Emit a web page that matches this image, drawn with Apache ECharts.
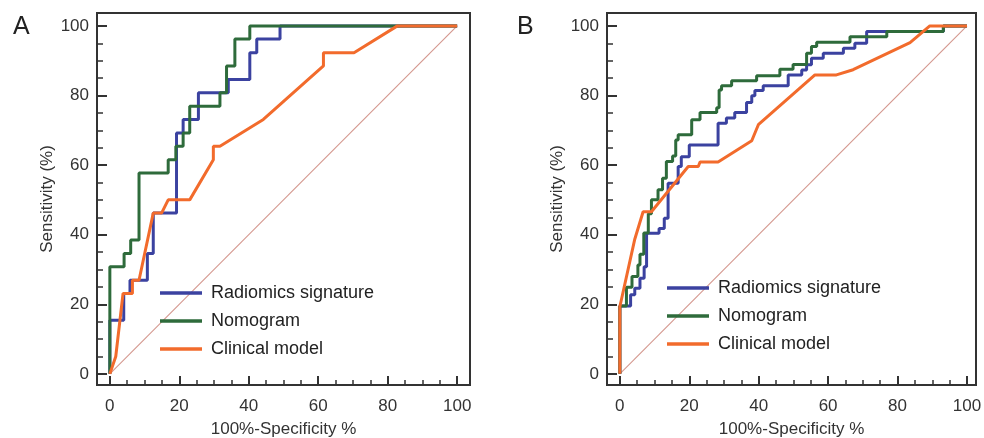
<!DOCTYPE html>
<html>

<head>
	<meta charset="utf-8" />
	<title></title>
	<script type="text/javascript" src="https://cdn.jsdelivr.net/npm/echarts@6/dist/echarts.min.js"></script>
</head>

<body style="margin:0;">
	<div id="main" style="width: 984px;height:438px;"></div>
</body>
<script>
	// ROC vertices [100%-specificity, sensitivity]
	var radiomicsA = [[0,0],[0,15.4],[4,15.4],[4,23.1],[5.8,23.1],[5.8,26.9],[10.8,26.9],[10.8,34.6],[12.5,34.6],[12.5,46.2],[19.2,46.2],[19.2,69.2],[21.1,69.2],[21.1,73.1],[25.5,73.1],[25.5,80.8],[34.1,80.8],[34.1,84.6],[40.3,84.6],[40.3,92.3],[42.3,92.3],[42.3,96.2],[49,96.2],[49,100],[100,100]];
	var nomogramA = [[0,0],[0,30.8],[4.1,30.8],[4.1,34.6],[6,34.6],[6,38.5],[8.4,38.5],[8.4,57.7],[16.8,57.7],[16.8,61.5],[19,61.5],[19,65.4],[21.1,65.4],[21.1,69.2],[23,69.2],[23,76.9],[31.7,76.9],[31.7,80.8],[33.6,80.8],[33.6,88.5],[36,88.5],[36,96.2],[40.3,96.2],[40.3,100],[100,100]];
	var clinicalA = [[0,0],[1.7,5],[3.8,23.1],[6.5,23.1],[6.5,26.9],[8.4,26.9],[12.5,46.2],[14.9,46.2],[16.8,50],[23,50],[29.8,61.5],[29.8,65.4],[31.7,65.4],[44.2,73.1],[61.5,88.5],[61.5,92.3],[70.3,92.3],[82.8,100],[100,100]];

	var radiomicsB = [[0,0],[0,19.5],[3.1,19.5],[3.1,22.7],[4.3,22.7],[4.3,24.6],[5.8,24.6],[5.8,27.5],[7,27.5],[7,30.8],[7.7,30.8],[7.7,40.4],[11.3,40.4],[11.3,41.8],[12.8,41.8],[12.8,44.7],[13.9,44.7],[13.9,54.8],[16.8,54.8],[16.8,59.6],[17.7,59.6],[17.7,62.4],[20,62.4],[20,65.8],[28.3,65.8],[28.3,72],[30.7,72],[30.7,73.5],[33.1,73.5],[33.1,75.1],[36.5,75.1],[36.5,78],[38,78],[38,79.9],[38.9,79.9],[38.9,81.4],[41.3,81.4],[41.3,82.8],[48.5,82.8],[48.5,85.9],[52.4,85.9],[52.4,87.3],[53.8,87.3],[53.8,88.8],[55.2,88.8],[55.2,90.7],[58.6,90.7],[58.6,92.1],[64.4,92.1],[64.4,93.6],[67.7,93.6],[67.7,95],[71.1,95],[71.1,98.4],[93.2,98.4],[93.2,100],[100,100]];
	var nomogramB = [[0,0],[0,19.5],[1.9,19.5],[1.9,24.9],[3.5,24.9],[3.5,28],[5.2,28],[5.2,31.3],[5.8,31.3],[5.8,34.4],[6.9,34.4],[6.9,40.5],[8.2,40.5],[8.2,46],[9.1,46],[9.1,50],[11,50],[11,52.9],[12.3,52.9],[12.3,56.2],[13.4,56.2],[13.4,61],[15.2,61],[15.2,62.6],[16.1,62.6],[16.1,67.2],[16.8,67.2],[16.8,68.7],[20.7,68.7],[20.7,73],[23.1,73],[23.1,75.1],[27.9,75.1],[27.9,76.5],[28.6,76.5],[28.6,81.6],[29.3,81.6],[29.3,82.8],[32.2,82.8],[32.2,84.2],[39.4,84.2],[39.4,85.7],[46.1,85.7],[46.1,87.5],[49.9,87.5],[49.9,88.9],[53.8,88.9],[53.8,92.1],[55.2,92.1],[55.2,94.1],[56.7,94.1],[56.7,95.3],[66.3,95.3],[66.3,96.9],[76.9,96.9],[76.9,98.4],[93.2,98.4],[93.2,100],[100,100]];
	var clinicalB = [[0,0],[0,19.3],[4.3,38.7],[6.7,46.6],[9.1,46.6],[19.7,59.6],[22.6,59.6],[23.1,60.9],[28.3,60.9],[38,67],[39.9,71.6],[56.2,85.9],[62.4,85.9],[67.2,87.4],[83.6,95.2],[89.3,100],[100,100]];

	var diagonal = [[0,0],[100,100]];
	var names = ['Radiomics signature', 'Nomogram', 'Clinical model'];
	var colors = ['#3b42a0', '#2e6b3b', '#f26b2c'];
	var majorTicks = [0, 20, 40, 60, 80, 100];
	var minorTicks = [0, 5, 10, 15, 20, 25, 30, 35, 40, 45, 50, 55, 60, 65, 70, 75, 80, 85, 90, 95, 100];

	var font = 'Liberation Sans, Arial, Helvetica, sans-serif';
	var dark = '#333';

	function xAxes(grid, max) {
		return [{
			gridIndex: grid, type: 'value', min: -3.7, max: max, position: 'bottom', offset: 0,
			name: '100%-Specificity %', nameLocation: 'middle', nameGap: 36,
			nameTextStyle: { fontSize: 17, color: dark, fontFamily: font },
			axisLine: { show: false, onZero: false },
			splitLine: { show: false },
			axisTick: { inside: true, length: 9, customValues: majorTicks, lineStyle: { color: dark, width: 2 } },
			axisLabel: { customValues: majorTicks, fontSize: 17, color: dark, fontFamily: font, margin: 13 }
		}, {
			gridIndex: grid, type: 'value', min: -3.7, max: max, position: 'bottom', offset: 0,
			axisLine: { show: false, onZero: false },
			splitLine: { show: false },
			axisTick: { inside: true, length: 5, customValues: minorTicks, lineStyle: { color: dark, width: 1.5 } },
			axisLabel: { show: false }
		}];
	}

	function yAxes(grid) {
		return [{
			gridIndex: grid, type: 'value', min: -3.2, max: 103.7, position: 'left', offset: 0,
			name: 'Sensitivity (%)', nameLocation: 'middle', nameGap: 41, nameRotate: 90,
			nameTextStyle: { fontSize: 17, color: dark, fontFamily: font },
			axisLine: { show: false, onZero: false },
			splitLine: { show: false },
			axisTick: { inside: true, length: 10, customValues: majorTicks, lineStyle: { color: dark, width: 2 } },
			axisLabel: { customValues: majorTicks, fontSize: 17, color: dark, fontFamily: font, margin: 8 }
		}, {
			gridIndex: grid, type: 'value', min: -3.2, max: 103.7, position: 'left', offset: 0,
			axisLine: { show: false, onZero: false },
			splitLine: { show: false },
			axisTick: { inside: true, length: 6, customValues: minorTicks, lineStyle: { color: dark, width: 1.5 } },
			axisLabel: { show: false }
		}];
	}

	function roc(name, data, idx, color) {
		return {
			name: name, type: 'line', data: data,
			xAxisIndex: idx * 2, yAxisIndex: idx * 2,
			showSymbol: false, symbol: 'none', animation: false,
			lineStyle: { color: color, width: 3 },
			itemStyle: { color: color }
		};
	}

	function diag(idx) {
		return {
			type: 'line', data: diagonal, xAxisIndex: idx * 2, yAxisIndex: idx * 2,
			symbol: 'none', animation: false, silent: true,
			lineStyle: { color: '#d4978e', width: 1.1 }
		};
	}

	function legend(left, top) {
		return {
			data: names, orient: 'vertical', left: left, top: top,
			icon: 'rect', itemWidth: 42, itemHeight: 3.5, itemGap: 8,
			selectedMode: false,
			textStyle: { fontSize: 18, color: '#222', fontFamily: font, lineHeight: 20, padding: [0, 0, 0, 4] }
		};
	}

	var myChart = echarts.init(document.getElementById('main'));
	var option = {
		backgroundColor: '#fff',
		animation: false,
		title: [
			{ text: 'A', left: 8, top: 10, textStyle: { fontSize: 25, fontWeight: 'normal', color: '#222', fontFamily: font } },
			{ text: 'B', left: 512, top: 10, textStyle: { fontSize: 25, fontWeight: 'normal', color: '#222', fontFamily: font } }
		],
		grid: [
			{ left: 97, top: 13, width: 373, height: 372, show: true, borderColor: dark, borderWidth: 2, outerBoundsMode: 'none', containLabel: false },
			{ left: 607, top: 13, width: 369, height: 372, show: true, borderColor: dark, borderWidth: 2, outerBoundsMode: 'none', containLabel: false }
		],
		legend: [legend(155, 278), legend(662, 273)],
		xAxis: xAxes(0, 103.7).concat(xAxes(1, 102.6)),
		yAxis: yAxes(0).concat(yAxes(1)),
		series: [
			diag(0),
			roc(names[0], radiomicsA, 0, colors[0]),
			roc(names[1], nomogramA, 0, colors[1]),
			roc(names[2], clinicalA, 0, colors[2]),
			diag(1),
			roc(names[0], radiomicsB, 1, colors[0]),
			roc(names[1], nomogramB, 1, colors[1]),
			roc(names[2], clinicalB, 1, colors[2])
		]
	};
	myChart.setOption(option);
</script>

</html>
